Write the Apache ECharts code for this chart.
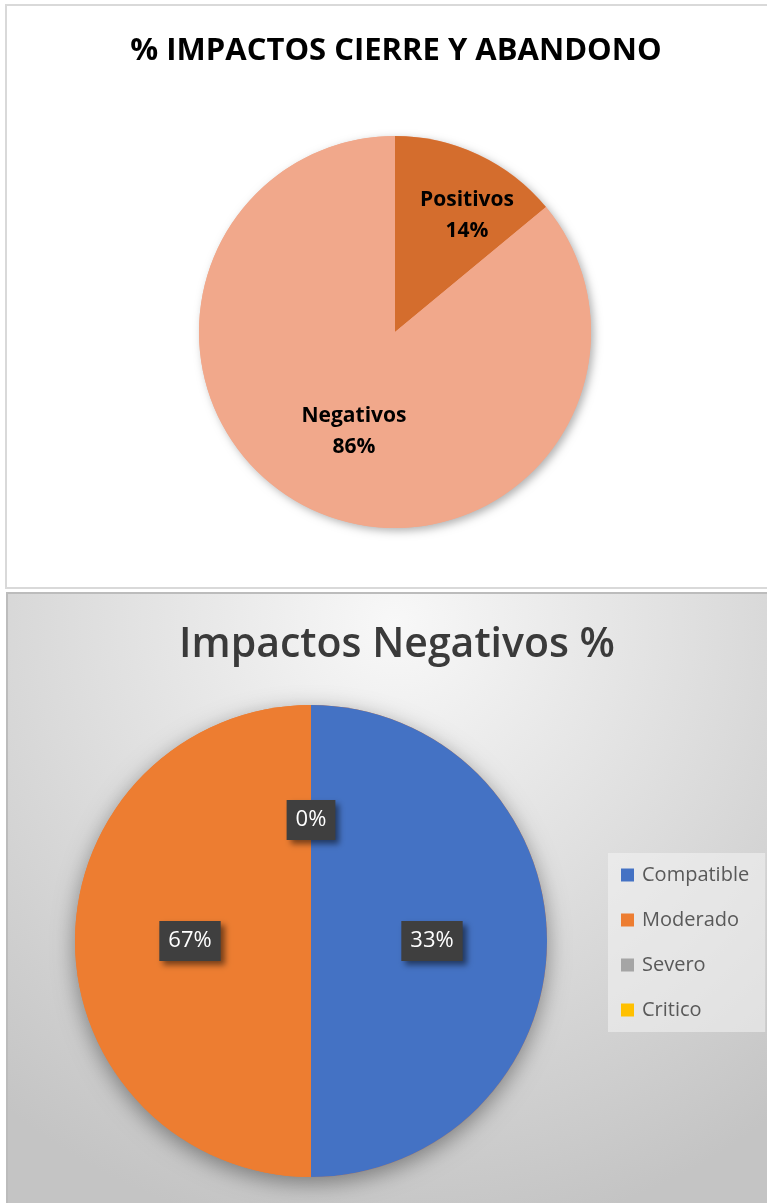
<!DOCTYPE html>
<html>
<head>
<meta charset="utf-8">
<script src="https://cdn.jsdelivr.net/npm/echarts@6/dist/echarts.min.js"></script>
<style>
  html, body { margin: 0; padding: 0; background: #fff; }
  #main { width: 767px; height: 1203px; }
</style>
</head>
<body>
<div id="main"></div>
<script>
// chart 1 - cierre y abandono
var topNames = ['Positivos', 'Negativos'];
var topValues = [14, 86];
var topColors = ['#D46D2D', '#F1A88B'];

// chart 2 - impactos negativos (slice sizes as drawn, labels as printed)
var negNames = ['Compatible', 'Moderado', 'Severo', 'Critico'];
var negValues = [50, 50, 0, 0];
var negLabels = ['33%', '67%', '0%', '0%'];
var negColors = ['#4472C4', '#ED7D31', '#A5A5A5', '#FFC000'];

var font = "'Open Sans', 'Noto Sans', sans-serif";

var chart = echarts.init(document.getElementById('main'), null, { renderer: 'canvas' });

var topData = topNames.map(function (n, i) {
  return { name: n, value: topValues[i], itemStyle: { color: topColors[i] } };
});
// nudge labels where excel put them
topData[0].label = { offset: [29, -25] };
topData[1].label = { offset: [2, 8] };

var negData = negNames.map(function (n, i) {
  return { name: n, value: negValues[i], itemStyle: { color: negColors[i] } };
});

var sum = function (arr) { return arr.reduce(function (a, b) { return a + b; }, 0); };

var option = {
  backgroundColor: '#ffffff',
  animation: false,
  graphic: [
    {
      type: 'rect', z: -10,
      shape: { x: 6, y: 5, width: 775, height: 583 },
      style: { fill: '#ffffff', stroke: '#d9d9d9', lineWidth: 2 }
    },
    {
      type: 'rect', z: -10,
      shape: { x: 7, y: 593, width: 775, height: 620 },
      style: {
        fill: new echarts.graphic.RadialGradient(0.5, 0.05, 1, [
          { offset: 0, color: '#f8f8f8' },
          { offset: 1, color: '#c4c4c4' }
        ]),
        stroke: '#bcbcbc', lineWidth: 2
      }
    },
    {
      type: 'text', z: 10,
      style: {
        x: 396, y: 51, text: '% IMPACTOS CIERRE Y ABANDONO',
        fill: '#000', font: 'bold 31px ' + font,
        textAlign: 'center', textVerticalAlign: 'middle'
      }
    },
    {
      type: 'text', z: 10,
      style: {
        x: 397, y: 645, text: 'Impactos Negativos %',
        fill: '#3a3a3a', font: '600 41px ' + font,
        textAlign: 'center', textVerticalAlign: 'middle'
      }
    }
  ],
  legend: {
    data: negNames,
    orient: 'vertical',
    left: 608, top: 853,
    icon: 'rect',
    itemWidth: 13, itemHeight: 13, itemGap: 25,
    backgroundColor: 'rgba(244,244,244,0.55)',
    padding: [12, 16, 12, 13],
    textStyle: { fontFamily: font, fontSize: 20, lineHeight: 20, color: '#595959', padding: [0, 0, 0, 3] }
  },
  series: [
    {
      // shadow behind the top pie
      type: 'pie', silent: true, z: 1,
      center: [395, 332], radius: 196,
      label: { show: false }, labelLine: { show: false },
      data: [{ name: 'bg1', value: sum(topValues) }],
      itemStyle: { color: '#F1A88B', shadowBlur: 8, shadowOffsetX: 3, shadowOffsetY: 3, shadowColor: 'rgba(0,0,0,0.3)' }
    },
    {
      type: 'pie', z: 2,
      center: [395, 332], radius: 196,
      startAngle: 90, clockwise: true,
      data: topData,
      label: {
        show: true, position: 'inside',
        fontFamily: font, fontWeight: 'bold', fontSize: 21, lineHeight: 31, color: '#000',
        formatter: function (p) { return p.name + '\n' + Math.round(p.percent) + '%'; }
      },
      labelLine: { show: false }
    },
    {
      // shadow behind the bottom pie
      type: 'pie', silent: true, z: 1,
      center: [311, 941], radius: 236,
      label: { show: false }, labelLine: { show: false },
      data: [{ name: 'bg2', value: sum(negValues) }],
      itemStyle: { color: '#ED7D31', shadowBlur: 22, shadowOffsetY: 6, shadowColor: 'rgba(0,0,0,0.4)' }
    },
    {
      type: 'pie', z: 2,
      center: [311, 941], radius: 236,
      startAngle: 90, clockwise: true,
      data: negData,
      label: {
        show: true, position: 'inside',
        fontFamily: font, fontSize: 22, color: '#fff',
        backgroundColor: '#3f3f3f',
        padding: [10, 9, 8, 9],
        shadowColor: 'rgba(0,0,0,0.5)', shadowBlur: 6, shadowOffsetX: 4, shadowOffsetY: 4,
        formatter: function (p) { return negLabels[p.dataIndex]; }
      },
      labelLine: { show: false }
    }
  ]
};

chart.setOption(option);
</script>
</body>
</html>
